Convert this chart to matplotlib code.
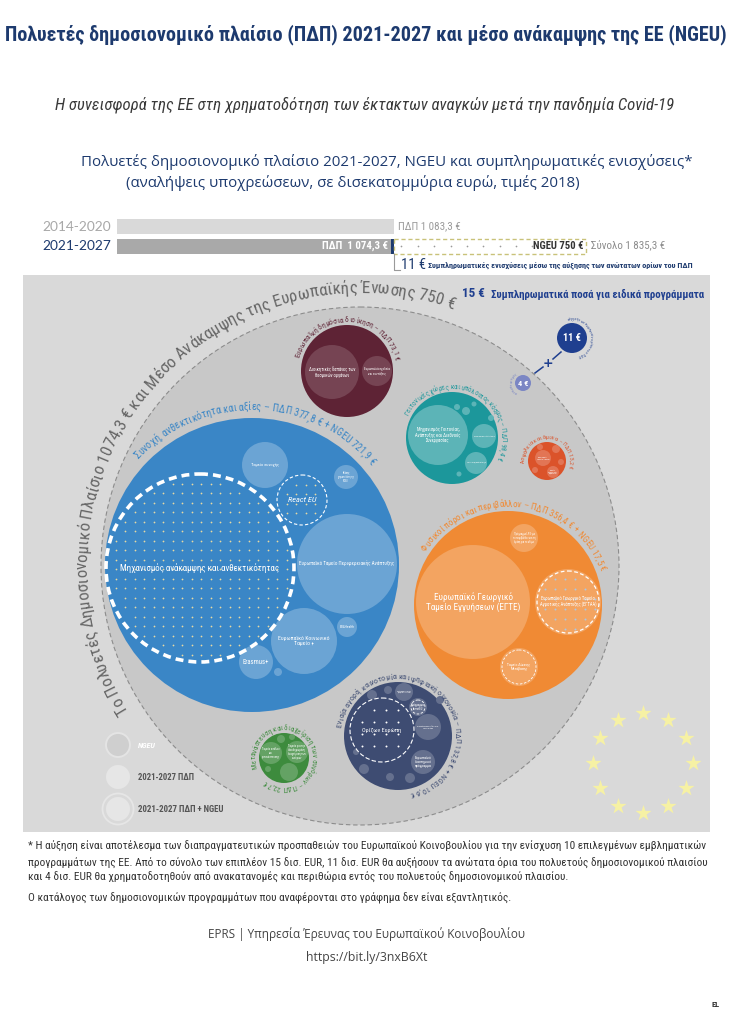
import numpy as np
import matplotlib.pyplot as plt
from matplotlib.patches import Circle, Rectangle
from matplotlib.colors import to_rgb
from matplotlib.font_manager import FontProperties, findfont, get_font
from matplotlib.ft2font import LoadFlags

W, H = 731, 1021
NARROW = ['Roboto Condensed', 'Liberation Sans Narrow', 'DejaVu Sans Condensed', 'Roboto', 'DejaVu Sans']
SANS = ['Open Sans', 'DejaVu Sans']
NAVY = '#1d3a6e'

# ---- data (bn EUR, 2018 prices) ----
periods = ['2014-2020', '2021-2027']
mff_totals = [1083.3, 1074.3]
ngeu_total = 750.0
mff_top_up = 11.0
mff_realloc = 4.0
special_total = 15.0

headings = ['Συνοχή, ανθεκτικότητα και αξίες',
            'Φυσικοί πόροι και περιβάλλον',
            'Ενιαία αγορά, καινοτομία και ψηφιακή οικονομία',
            'Γειτονικές χώρες και υπόλοιπος κόσμος',
            'Ευρωπαϊκή δημόσια διοίκηση',
            'Μετανάστευση και διαχείριση των συνόρων',
            'Ασφάλεια και άμυνα']
heading_mff = [377.8, 356.4, 132.8, 98.4, 73.1, 22.7, 13.2]
heading_ngeu = [721.9, 17.5, 10.6, 0, 0, 0, 0]

programme_labels = [
    (0, 'Μηχανισμός ανάκαμψης και ανθεκτικότητας'),
    (0, 'Ταμείο συνοχής'),
    (0, 'Κλάσης\nχρηματοδότησης\nNGEU'),
    (0, 'React EU'),
    (0, 'Ευρωπαϊκό Ταμείο Περιφερειακής Ανάπτυξης'),
    (0, 'Ευρωπαϊκό Κοινωνικό\nΤαμείο +'),
    (0, 'EU4Health'),
    (0, 'Erasmus+'),
    (1, 'Ευρωπαϊκό Γεωργικό\nΤαμείο Εγγυήσεων (ΕΓΤΕ)'),
    (1, 'Ευρωπαϊκό Γεωργικό Ταμείο\nΑγροτικής Ανάπτυξης (ΕΓΤΑΑ)'),
    (1, 'Πρόγραμμα LIFE για\nτο περιβάλλον και τη\nδράση για το κλίμα'),
    (1, 'Ταμείο Δίκαιης\nΜετάβασης'),
    (2, 'Ορίζων Ευρώπη'),
    (2, 'Διευκόλυνση Συνδέοντας\nτην Ευρώπη'),
    (2, 'Πρόγραμμα\nInvestEU'),
    (2, 'Πρόγραμμα για την\nψηφιακή Ευρώπη'),
    (2, 'Ευρωπαϊκό\nδιαστημικό\nπρόγραμμα'),
    (3, 'Μηχανισμός Γειτονίας,\nΑνάπτυξης και Διεθνούς\nΣυνεργασίας'),
    (3, 'Ανθρωπιστική βοήθεια'),
    (3, 'Προενταξιακή στήριξη'),
    (4, 'Διοικητικές δαπάνες των\nθεσμικών οργάνων'),
    (4, 'Ευρωπαϊκά σχολεία\nκαι συντάξεις'),
    (5, 'Ταμείο ασύλου\nκαι\nμετανάστευσης'),
    (5, 'Ταμείο για την\nολοκληρωμένη\nδιαχείριση των\nσυνόρων'),
    (6, 'Ευρωπαϊκό\nΤαμείο Άμυνας'),
    (6, 'Ταμείο\nεσωτερικής\nασφάλειας'),
]

legend_labels = ['NGEU', '2021-2027 ΠΔΠ', '2021-2027 ΠΔΠ + NGEU']

# ---- layout (pixels, y down) ----
heading_xy = [(252, 565), (508, 605), (398, 736), (452, 438), (347, 371), (284, 758), (547, 461)]
heading_r = [147, 94, 54, 46, 46, 25, 19]
heading_col = ['#3a86c6', '#f08a34', '#3e4c72', '#1c979b', '#5e2335', '#3d8b3d', '#db532a']
heading_arc = [(155, 137, 40), (98, 147, 20), (57, 172, -78), (49, 153, -25),
               (49, 165, 12), (28, 200, -130), (22, 186, -18)]
light_f = [0.25, 0.22, 0.2, 0.28, 0.15, 0.2, 0.2]

# x, y, r, text width as share of diameter, kind
programme_layout = [
    (200, 568, 94, 0.85, 'rrf'), (265, 465, 23, 0.6, 'solid'), (346, 477, 12, 0.72, 'solid'),
    (302, 500, 25, 0.57, 'react'), (347, 564, 50, 0.95, 'solid'), (304, 641, 33, 0.78, 'solid'),
    (347, 627, 10, 0.75, 'solid'), (256, 662, 17, 0.78, 'solid'),
    (473, 602, 57, 0.83, 'solid'), (568, 602, 33, 0.86, 'eafrd'), (524, 538, 14, 0.82, 'solid'),
    (519, 667, 19, 0.62, 'ring'),
    (382, 730, 32, 0.62, 'horizon'), (428, 727, 13, 0.82, 'solid'), (418, 707, 9, 0.75, 'ring'),
    (404, 692, 9, 0.82, 'solid'), (423, 762, 12, 0.72, 'solid'),
    (438, 435, 30, 0.75, 'solid'), (484, 436, 12, 0.85, 'solid'), (476, 463, 11, 0.85, 'solid'),
    (332, 372, 27, 0.87, 'solid'), (377, 371, 15, 0.85, 'solid'),
    (271, 753, 11, 0.8, 'solid'), (297, 752, 11, 0.8, 'solid'),
    (543, 458, 8, 0.8, 'solid'), (553, 472, 6, 0.8, 'solid'),
]
filler_bubbles = [(0, 278, 672, 4), (2, 372, 695, 5), (2, 388, 690, 4), (2, 364, 769, 5),
                  (2, 390, 777, 4), (2, 410, 778, 5), (2, 356, 752, 3), (2, 440, 700, 4),
                  (3, 457, 407, 3), (3, 466, 411, 4), (3, 474, 404, 2.5), (3, 459, 474, 2.5),
                  (3, 491, 418, 3), (5, 289, 772, 9), (5, 281, 739, 4), (5, 292, 737, 3),
                  (5, 268, 769, 3), (6, 556, 449, 4), (6, 540, 447, 3), (6, 535, 470, 3),
                  (6, 561, 462, 3)]


def lighten(c, f):
    r, g, b = to_rgb(c)
    return (r + (1 - r) * f, g + (1 - g) * f, b + (1 - b) * f)


def fmt(v):
    return f'{v:,.1f}'.replace(',', ' ').replace('.', ',')


def fmt0(v):
    return fmt(v).replace(',0', '')


fig = plt.figure(figsize=(W / 100, H / 100), dpi=100)
ax = fig.add_axes([0, 0, 1, 1])
ax.set_xlim(0, W)
ax.set_ylim(H, 0)
ax.axis('off')
REND = fig.canvas.get_renderer()


def fit_text(x, y, s, width, axis=None, size=10, **kw):
    axis = axis or ax
    t = axis.text(x, y, s, fontsize=size, **kw)
    w = t.get_window_extent(REND).width
    t.set_fontsize(size * width / w)
    return t


def glyph_metrics(s, fp):
    # advance and ink centre of each character, pixels
    font = get_font(findfont(fp))
    font.set_size(fp.get_size_in_points(), 100)
    adv, inkc = [], []
    for c in s:
        g = font.load_char(ord(c), flags=LoadFlags.NO_HINTING)
        a = g.linearHoriAdvance / 65536
        adv.append(a)
        inkc.append((g.horiBearingX + g.width / 2) / 64 if g.width else a / 2)
    return np.array(adv), np.array(inkc)


def arc_text(s, cx, cy, r, a0, a1, color, family=NARROW, weight='normal', style='normal', z=9):
    # clockwise text, baseline on circle of radius r, from angle a0 to a1 (deg, ccw)
    fp = FontProperties(family=family, weight=weight, style=style, size=10)
    adv, inkc = glyph_metrics(s, fp)
    span = np.radians(a0 - a1) * r
    k = span / adv.sum()
    fp = FontProperties(family=family, weight=weight, style=style, size=10 * k)
    ang = np.radians(a0)
    for c, w, ic in zip(s, adv * k, inkc * k):
        mid = ang - ic / r
        if c != ' ':
            ax.text(cx + r * np.cos(mid), cy - r * np.sin(mid), c, fontproperties=fp, color=color,
                    rotation=np.degrees(mid) - 90, rotation_mode='anchor', ha='center',
                    va='baseline', zorder=z)
        ang -= w / r


def dots(cx, cy, r, step, color, s=1.6, z=6):
    g = np.arange(-r, r + 0.1, step)
    xx, yy = np.meshgrid(g, g)
    m = xx ** 2 + yy ** 2 < (r - step * 0.5) ** 2
    ax.scatter(cx + xx[m], cy + yy[m], s=s, c=[color], lw=0, zorder=z)


# ---- titles ----
fit_text(366, 35, 'Πολυετές δημοσιονομικό πλαίσιο (ΠΔΠ) 2021-2027 και μέσο ανάκαμψης της ΕΕ (NGEU)',
         720, family=NARROW, weight='bold', color=NAVY, ha='center', va='center')
fit_text(365, 105, 'Η συνεισφορά της ΕΕ στη χρηματοδότηση των έκτακτων αναγκών μετά την πανδημία Covid-19',
         620, family=NARROW, style='italic', color='#3a3a3a', ha='center', va='center')
t = fit_text(387, 162, 'Πολυετές δημοσιονομικό πλαίσιο 2021-2027, NGEU και συμπληρωματικές ενισχύσεις*',
             610, family=SANS, color=NAVY, ha='center', va='center')
ax.text(353, 183, '(αναλήψεις υποχρεώσεων, σε δισεκατομμύρια ευρώ, τιμές 2018)',
        fontsize=t.get_fontsize(), family=SANS, color=NAVY, ha='center', va='center')

# ---- bars ----
SCALE = 0.2555          # pixels per bn EUR
PITCH = 19.5            # pixels between the two bars
bx = fig.add_axes([117 / W, 1 - 256 / H, 593 / W, 41 / H])
bx.set_xlim(0, 593 / SCALE)
bx.set_ylim((256 - 226.5) / PITCH, (215 - 226.5) / PITCH)
bx.axis('off')
bh = 15 / PITCH
bx.barh([0, 1], mff_totals, height=bh, color=['#d9d9d9', '#a9a9a9'])
bx.barh(1, mff_top_up, left=mff_totals[1], height=bh, color=NAVY)
ng0 = mff_totals[1] + mff_top_up
bx.barh(1, ngeu_total, left=ng0, height=bh, color='white', edgecolor='#c9c27a',
        linestyle=(0, (3, 2)), linewidth=1)
gx = np.arange(ng0 + 28, ng0 + ngeu_total - 190, 64)
bx.scatter(gx, np.ones_like(gx), s=1.5, c='#9a9a9a', lw=0)
for i, lab in enumerate(periods):
    fit_text(111, 226.5 + PITCH * i, lab, 69, family=['Lato', 'DejaVu Sans'],
             color=['#a8a8a8', NAVY][i], ha='right', va='center')
fit_text(mff_totals[0] + 16, 0, f'ΠΔΠ {fmt(mff_totals[0])} €', 62, axis=bx, family=NARROW,
         color='#9b9b9b', ha='left', va='center')
fit_text(mff_totals[1] - 12, 1, f'ΠΔΠ  {fmt(mff_totals[1])} €', 66, axis=bx, family=NARROW,
         weight='bold', color='white', ha='right', va='center')
fit_text(ng0 + ngeu_total - 8, 1, f'NGEU {fmt0(ngeu_total)} €', 50, axis=bx,
         family=NARROW, weight='bold', color='#333333', ha='right', va='center')
total = mff_totals[1] + mff_top_up + ngeu_total
fit_text(ng0 + ngeu_total + 18, 1, f'Σύνολο {fmt(total)} €', 74, axis=bx, family=NARROW,
         color='#8c8c8c', ha='left', va='center')
bx.plot([ng0 - 2, ng0 - 2, ng0 + 22], [1 + bh / 2, 2.25, 2.25], color='#9a9a9a', lw=0.8, clip_on=False)
bx.text(ng0 + 26, 1.97, f'{fmt0(mff_top_up)} €', fontsize=10.5, family=NARROW,
        color=NAVY, ha='left', va='center')
fit_text(ng0 + 132, 2.02, 'Συμπληρωματικές ενισχύσεις μέσω της αύξησης των ανώτατων ορίων του ΠΔΠ',
         267, axis=bx, family=NARROW, weight='bold', color=NAVY, ha='left', va='center')

# ---- panel ----
ax.add_patch(Rectangle((23, 275), 687, 557, fc='#d9d9d9', ec='none', zorder=0))
ax.add_patch(Circle((360, 566), 259, fc='#c8c8c8', ec='#8c8c8c', lw=0.8, ls=(0, (4, 2.5)), zorder=1))
arc_text('Το Πολυετές Δημοσιονομικό Πλαίσιο %s € και Μέσο Ανάκαμψης της Ευρωπαϊκής Ένωσης %s €'
         % (fmt(mff_totals[1]).replace(' ', ''), fmt0(ngeu_total)),
         360, 566, 273, 212, 70, '#666666')

fit_text(462, 293, f'{fmt0(special_total)} €', 23, family=NARROW, weight='bold',
         color='#1f3f8f', ha='left', va='center')
fit_text(491, 294, 'Συμπληρωματικά ποσά για ειδικά προγράμματα', 213, family=NARROW, weight='bold',
         color='#1f3f8f', ha='left', va='center')

# headings
for i, name in enumerate(headings):
    x, y = heading_xy[i]
    ax.add_patch(Circle((x, y), heading_r[i], fc=heading_col[i], ec='none', zorder=3))
    lab = f'{name} – ΠΔΠ {fmt(heading_mff[i])} €'
    if heading_ngeu[i]:
        lab += f' + NGEU {fmt(heading_ngeu[i])} €'
    rr, a0, a1 = heading_arc[i]
    arc_text(lab, x, y, rr, a0, a1, heading_col[i])

for h, x, y, r in filler_bubbles:
    ax.add_patch(Circle((x, y), r, fc=lighten(heading_col[h], light_f[h]), ec='none', zorder=4))

for (h, lab), (x, y, r, wf, kind) in zip(programme_labels, programme_layout):
    base = heading_col[h]
    light = lighten(base, light_f[h])
    style = 'normal'
    if kind == 'rrf':
        ax.add_patch(Circle((x, y), r, fc=base, ec='none', zorder=4))
        dots(x, y, r, 9.5, '#e6d9a2')
        ax.add_patch(Circle((x, y), r, fc='none', ec='white', lw=2.6, ls=(0, (2.2, 1.4)), zorder=7))
    elif kind == 'react':
        ax.add_patch(Circle((x, y), r, fc=base, ec='none', zorder=4))
        dots(x, y, r, 9.5, '#e6d9a2')
        ax.add_patch(Circle((x, y), r, fc='none', ec='white', lw=0.8, ls=(0, (3, 2)), zorder=7))
        style = 'italic'
    elif kind == 'horizon':
        ax.add_patch(Circle((x, y), r, fc=base, ec='none', zorder=4))
        dots(x, y, r, 12, 'white', s=2)
        ax.add_patch(Circle((x, y), r, fc='none', ec='white', lw=0.8, ls=(0, (4, 2)), zorder=7))
    elif kind == 'eafrd':
        ax.add_patch(Circle((x, y), r, fc=light, ec='none', zorder=4))
        dots(x, y, r, 10, '#a9c8e8', s=2)
        ax.add_patch(Circle((x, y), r - 2, fc='none', ec='white', lw=0.9, ls=(0, (3, 2)), zorder=7))
    else:
        ax.add_patch(Circle((x, y), r, fc=light, ec='none', zorder=4))
        if kind == 'ring':
            ax.add_patch(Circle((x, y), r - 2, fc='none', ec='white', lw=0.6, ls=(0, (3, 2)), zorder=7))
    fit_text(x, y, lab, 2 * r * wf, family=NARROW, style=style, color='white', ha='center',
             va='center', linespacing=1.1, zorder=8)

# supplementary amounts (11 + 4 = 15)
ax.add_patch(Circle((572, 338), 15, fc='#1f3f8f', ec='none', zorder=5))
ax.text(572, 338, f'{fmt0(mff_top_up)} €', fontsize=7.5, family=NARROW, weight='bold',
        color='white', ha='center', va='center', zorder=8)
arc_text('αύξηση των ανώτατων ορίων του ΠΔΠ', 572, 338, 18, 105, -70, '#1f3f8f')
ax.add_patch(Circle((523, 383), 8, fc='#7b86c4', ec='none', zorder=5))
ax.text(523, 383, f'{fmt0(mff_realloc)} €', fontsize=6, family=NARROW, weight='bold',
        color='white', ha='center', va='center', zorder=8)
arc_text('ανακατανομές', 523, 383, 10.5, 240, 125, '#7b86c4')
ax.plot([535, 543], [373, 367], color='#1f3f8f', lw=1.1, zorder=5)
ax.plot([553, 561], [359, 352], color='#1f3f8f', lw=1.1, zorder=5)
ax.text(548, 363, '+', fontsize=9, weight='bold', color='#1f3f8f', ha='center', va='center', zorder=6)

# legend
ax.add_patch(Circle((118, 745), 12, fc='#cfcfcf', ec='#e4e4e4', lw=1.4, zorder=5))
ax.add_patch(Circle((118, 777), 12, fc='#e6e6e6', ec='none', zorder=5))
ax.add_patch(Circle((118, 809), 12, fc='#e6e6e6', ec='none', zorder=5))
ax.add_patch(Circle((118, 809), 15.5, fc='none', ec='#e6e6e6', lw=1.3, zorder=5))
fit_text(138, 745, legend_labels[0], 18, family=NARROW, weight='bold', style='italic', color='white',
         ha='left', va='center', zorder=6)
fit_text(138, 777, legend_labels[1], 56, family=NARROW, weight='bold', color='#555555',
         ha='left', va='center', zorder=6)
fit_text(138, 809, legend_labels[2], 86, family=NARROW, weight='bold', color='#555555',
         ha='left', va='center', zorder=6)

# EU stars
sa = np.radians(np.arange(0, 360, 30))
ax.scatter(643 + 50 * np.cos(sa), 763 + 50 * np.sin(sa), marker='*', s=150, c='#f6f1a4', lw=0, zorder=5)

# ---- footnotes ----
notes = ['* Η αύξηση είναι αποτέλεσμα των διαπραγματευτικών προσπαθειών του Ευρωπαϊκού Κοινοβουλίου για την ενίσχυση 10 επιλεγμένων εμβληματικών',
         'προγραμμάτων της ΕΕ. Από το σύνολο των επιπλέον 15 δισ. EUR, 11 δισ. EUR θα αυξήσουν τα ανώτατα όρια του πολυετούς δημοσιονομικού πλαισίου',
         'και 4 δισ. EUR θα χρηματοδοτηθούν από ανακατανομές και περιθώρια εντός του πολυετούς δημοσιονομικού πλαισίου.']
t = fit_text(28, 846, notes[0], 677, family=NARROW, color='#333333', ha='left', va='center')
fs = t.get_fontsize()
ax.text(28, 862, notes[1], fontsize=fs, family=NARROW, color='#333333', ha='left', va='center')
ax.text(28, 877, notes[2], fontsize=fs, family=NARROW, color='#333333', ha='left', va='center')
ax.text(28, 898, 'Ο κατάλογος των δημοσιονομικών προγραμμάτων που αναφέρονται στο γράφημα δεν είναι εξαντλητικός.',
        fontsize=fs, family=NARROW, color='#333333', ha='left', va='center')
fit_text(366, 934, 'EPRS | Υπηρεσία Έρευνας του Ευρωπαϊκού Κοινοβουλίου', 318, family=SANS,
         color='#444444', ha='center', va='center')
fit_text(367, 957, 'https://bit.ly/3nxB6Xt', 121, family=SANS, color='#444444', ha='center', va='center')
ax.text(716, 1004, 'EL', fontsize=6, family=NARROW, weight='bold', color='#333333', ha='center', va='center')

fig.savefig('out.png', dpi=100, facecolor='white')
